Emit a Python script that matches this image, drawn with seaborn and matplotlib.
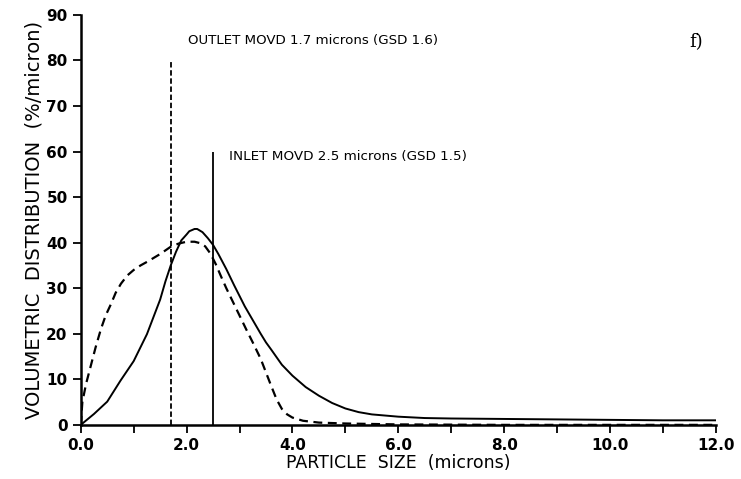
import numpy as np
import pandas as pd
import matplotlib
matplotlib.use("Agg")
import matplotlib.pyplot as plt
import seaborn as sns

# particle size (microns) and volumetric distribution (%/micron)
inlet_x = [0.0, 0.25, 0.5, 0.75, 1.0, 1.25, 1.5, 1.6, 1.7, 1.8, 1.9, 2.0, 2.05, 2.15, 2.2,
           2.3, 2.4, 2.5, 2.6, 2.75, 2.9, 3.0, 3.1, 3.25, 3.4, 3.5, 3.6, 3.8, 4.0, 4.1,
           4.25, 4.5, 4.75, 5.0, 5.25, 5.5, 6.0, 6.5, 7.0, 8.0, 9.0, 10.0, 11.0, 12.0]
inlet_y = [0.0, 2.4, 5.1, 9.7, 14.0, 19.9, 27.5, 31.5, 35.0, 38.0, 40.5, 41.8, 42.5, 43.0, 43.0,
           42.3, 41.0, 39.5, 37.5, 34.2, 30.6, 28.3, 26.0, 23.0, 20.0, 18.1, 16.5, 13.2, 10.8, 9.8,
           8.3, 6.4, 4.8, 3.6, 2.8, 2.3, 1.8, 1.5, 1.4, 1.3, 1.2, 1.1, 1.0, 1.0]

outlet_x = [0.0, 0.03, 0.1, 0.19, 0.28, 0.38, 0.47, 0.57, 0.66, 0.76, 0.88, 1.0, 1.13, 1.27,
            1.5, 1.7, 1.85, 2.0, 2.15, 2.25, 2.35, 2.45, 2.55, 2.65, 2.75, 2.875, 3.0, 3.125,
            3.25, 3.4, 3.5, 3.6, 3.7, 3.8, 3.9, 4.0, 4.2, 4.5, 5.0, 6.0, 8.0, 10.0, 12.0]
outlet_y = [0.0, 5.0, 9.0, 13.0, 17.0, 21.0, 24.0, 26.5, 29.0, 31.0, 32.8, 34.0, 35.0, 35.9,
            37.5, 39.1, 39.8, 40.2, 40.2, 39.9, 39.2, 37.6, 35.3, 32.6, 30.0, 27.0, 24.0, 21.0,
            18.1, 14.5, 11.5, 8.5, 5.6, 3.5, 2.3, 1.6, 0.9, 0.5, 0.3, 0.1, 0.0, 0.0, 0.0]

outlet_movd, outlet_top = 1.7, 80
inlet_movd, inlet_top = 2.5, 60

sns.set_style("ticks")
plt.rcParams['font.family'] = ['DejaVu Sans']
plt.rcParams['text.color'] = 'black'
plt.rcParams['axes.labelcolor'] = 'black'

fig = plt.figure(figsize=(7.41, 4.79), dpi=100)
ax = fig.add_axes([0.109, 0.113, 0.857, 0.856])

inlet = pd.DataFrame({'size': inlet_x, 'dist': inlet_y})
outlet = pd.DataFrame({'size': outlet_x, 'dist': outlet_y})
sns.lineplot(data=inlet, x='size', y='dist', color='black', lw=1.4, ax=ax)
sns.lineplot(data=outlet, x='size', y='dist', color='black', lw=1.6, ax=ax,
             linestyle=(0, (4, 2.5)))

# MOVD markers
ax.vlines(outlet_movd, 0, outlet_top, colors='black', linestyles=(0, (3, 1.5)), lw=1.3)
ax.vlines(inlet_movd, 0, inlet_top, colors='black', lw=1.3)
ax.text(2.03, 84.3, 'OUTLET MOVD 1.7 microns (GSD 1.6)', fontsize=9.6, va='center', ha='left')
ax.text(2.8, 58.8, 'INLET MOVD 2.5 microns (GSD 1.5)', fontsize=9.7, va='center', ha='left')
ax.text(11.5, 84.0, 'f)', fontsize=13, family='DejaVu Serif', va='center', ha='left')

ax.set_xlim(0, 12)
ax.set_ylim(0, 90)
ax.set_xticks(np.arange(0, 13, 1))
ax.set_xticklabels([f'{v:.1f}' if v % 2 == 0 else '' for v in range(13)])
ax.set_yticks(np.arange(0, 91, 10))
ax.tick_params(axis='both', direction='out', length=6, width=1.3, labelsize=11,
               colors='black', labelcolor='black')
for lab in ax.get_xticklabels() + ax.get_yticklabels():
    lab.set_fontweight('bold')

ax.set_xlabel('PARTICLE  SIZE  (microns)', fontsize=12.5, labelpad=1)
ax.set_ylabel('VOLUMETRIC  DISTRIBUTION  (%/micron)', fontsize=14, labelpad=2)

sns.despine(ax=ax)
for s in ['left', 'bottom']:
    ax.spines[s].set_linewidth(1.8)
    ax.spines[s].set_color('black')

fig.savefig('out.png', dpi=100)
